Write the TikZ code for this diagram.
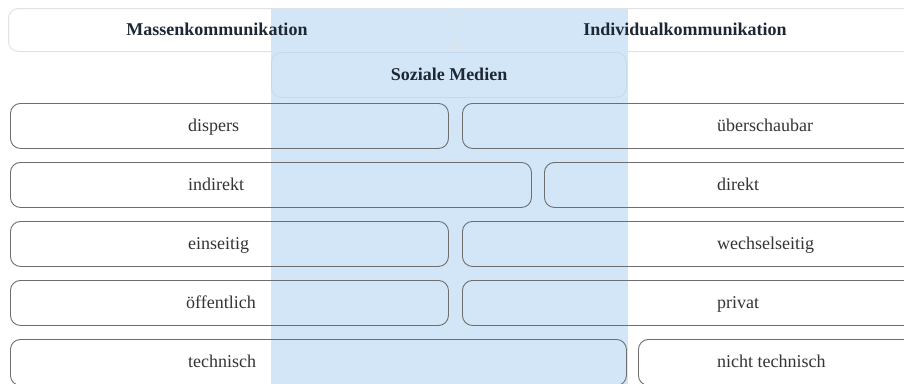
\documentclass[tikz,border=0pt]{standalone}
\usepackage{fontspec}
\setmainfont{Liberation Serif}
\definecolor{band}{RGB}{211,230,247}
\definecolor{bandedge}{RGB}{196,217,237}
\definecolor{boxedge}{RGB}{110,110,110}
\definecolor{headedge}{RGB}{226,226,226}
\definecolor{headtext}{RGB}{30,40,52}
\definecolor{bodytext}{RGB}{52,52,52}
\begin{document}
\begin{tikzpicture}[x=1pt,y=-1pt,
  cell/.style={draw=boxedge, line width=0.9pt, rounded corners=10pt,
    rectangle, anchor=north west, inner sep=0pt},
  head/.style={draw=headedge, line width=1pt, rounded corners=10pt,
    rectangle, anchor=north west, inner sep=0pt, minimum height=43pt},
  lbl/.style={text=bodytext, font=\fontsize{18}{21}\selectfont,
    anchor=base west, inner sep=0pt},
  hlbl/.style={text=headtext, font=\fontsize{18}{21}\selectfont\bfseries,
    anchor=base, inner sep=0pt}]
\useasboundingbox (0,0) rectangle (904,383);
\clip (0,0) rectangle (904,383);
\fill[white] (0,0) rectangle (904,383);

% social media band
\node[fill=band, anchor=north west, inner sep=0pt, minimum width=357pt,
  minimum height=380pt] (band) at (271,8) {};
\node[draw=bandedge, line width=0.8pt, rounded corners=10pt, anchor=north west,
  inner sep=0pt, minimum width=355pt, minimum height=45pt] (sm) at (271,52) {};
\node[hlbl] (smtxt) at (449,80.5) {Soziale Medien};

% headers
\node[head, minimum width=447pt] (mass) at (8,8) {};
\node[head, minimum width=470pt] (indiv) at (457,8) {};
\node[hlbl] (masstxt) at (217,35.5) {Massenkommunikation};
\node[hlbl] (indivtxt) at (685,35.5) {Individualkommunikation};

% rows: left boxes
\node[cell, minimum width=438pt, minimum height=45pt] (l1) at (10,103) {};
\node[cell, minimum width=521pt, minimum height=45pt] (l2) at (10,162) {};
\node[cell, minimum width=438pt, minimum height=45pt] (l3) at (10,221) {};
\node[cell, minimum width=438pt, minimum height=45pt] (l4) at (10,280) {};
\node[cell, minimum width=616pt, minimum height=46pt] (l5) at (10,339) {};

% rows: right boxes
\node[cell, minimum width=470pt, minimum height=45pt] (r1) at (462,103) {};
\node[cell, minimum width=390pt, minimum height=45pt] (r2) at (544,162) {};
\node[cell, minimum width=470pt, minimum height=45pt] (r3) at (462,221) {};
\node[cell, minimum width=470pt, minimum height=45pt] (r4) at (462,280) {};
\node[cell, minimum width=296pt, minimum height=46pt] (r5) at (638,339) {};

% labels
\node[lbl] (t1) at (188,131.5) {dispers};
\node[lbl] (t2) at (188,190.5) {indirekt};
\node[lbl] (t3) at (188,249.5) {einseitig};
\node[lbl] (t4) at (186,308.5) {öffentlich};
\node[lbl] (t5) at (188,367.5) {technisch};
\node[lbl] (u1) at (717,131.5) {überschaubar};
\node[lbl] (u2) at (717,190.5) {direkt};
\node[lbl] (u3) at (717,249.5) {wechselseitig};
\node[lbl] (u4) at (717,308.5) {privat};
\node[lbl] (u5) at (717,367.5) {nicht technisch};
\end{tikzpicture}
\end{document}
